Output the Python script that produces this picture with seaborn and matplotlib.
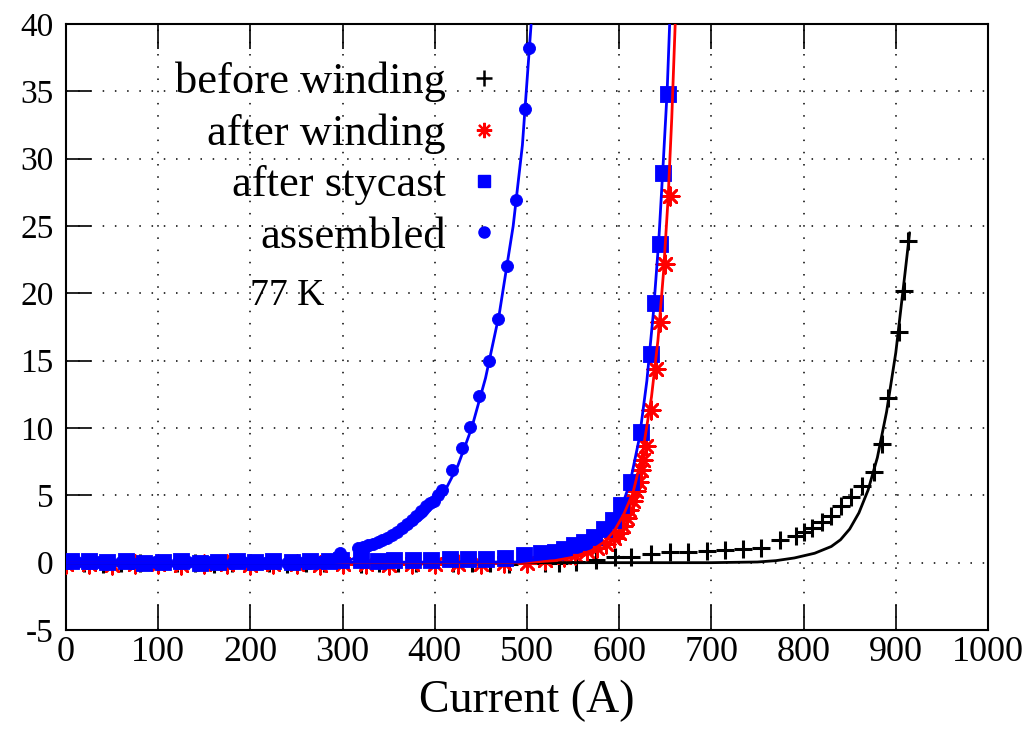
import matplotlib
matplotlib.use("Agg")
import matplotlib.pyplot as plt
from matplotlib.lines import Line2D
import pandas as pd
import seaborn as sns

# ---- measured points: current (A) vs voltage (uV/cm) ----
before_I = [0, 20, 40, 60, 80, 100, 120, 140, 160, 180, 200, 220, 240, 260, 280,
            300, 320, 340, 360, 380, 400, 420, 440, 460, 480, 500, 520, 535,
            553, 575, 595, 613, 635, 655, 675, 695, 715, 734, 754, 774, 792,
            800, 809, 820, 830, 841, 851, 863, 876, 885, 892, 904, 909, 913]
before_V = [0.0, 0.0, -0.1, 0.0, 0.0, -0.1, 0.0, 0.0, -0.1, 0.0, 0.0, 0.0, -0.1, 0.0, 0.0,
            0.0, -0.1, 0.0, 0.0, 0.0, -0.1, 0.0, 0.0, 0.0, -0.1, 0.0, 0.0, 0.0,
            0.07, 0.2, 0.4, 0.4, 0.64, 0.77, 0.77, 0.89, 0.94, 0.99, 1.06, 1.68, 2.0,
            2.25, 2.55, 3.05, 3.5, 4.2, 4.9, 5.7, 6.7, 8.8, 12.2, 17.1, 20.2, 23.9]

wound_I = [0, 25, 50, 75, 100, 125, 150, 175, 200, 225, 250, 275, 300, 325, 350,
           375, 400, 425, 450, 475, 500, 520, 540, 552, 565, 576, 586, 594, 600,
           604, 608, 611, 615, 618, 621, 624, 626, 629, 635, 640, 644, 650, 655]
wound_V = [-0.1, -0.1, -0.15, -0.1, -0.1, -0.15, -0.1, -0.1, -0.15, -0.1, -0.1, -0.15,
           -0.1, -0.1, -0.15, -0.1, -0.1, -0.1, -0.1, -0.05, 0.0, 0.2, 0.45, 0.6, 0.85,
           1.1, 1.4, 1.8, 2.2, 2.7, 3.3, 3.9, 4.6, 5.3, 6.0, 6.9, 7.6, 8.7, 11.3, 14.4,
           17.9, 22.2, 27.2]

stycast_I = [5, 25, 45, 65, 85, 105, 125, 145, 165, 185, 205, 225, 245, 265, 285,
             298, 320, 338, 356, 376, 396, 416, 436, 456, 476, 497, 515, 530, 540,
             551, 562, 573, 584, 593, 602, 613, 624, 634, 639, 644, 647, 653]
stycast_V = [0.1, 0.1, 0.05, 0.1, 0.0, 0.05, 0.1, 0.0, 0.05, 0.1, 0.05, 0.1, 0.05, 0.1,
             0.1, 0.2, 0.2, 0.15, 0.2, 0.2, 0.2, 0.25, 0.3, 0.3, 0.35, 0.55, 0.7, 0.8,
             1.05, 1.3, 1.55, 1.9, 2.5, 3.2, 4.3, 6.0, 9.7, 15.5, 19.3, 23.7, 28.9, 34.8]

assembled_I = [0, 12, 24, 36, 48, 60, 72, 84, 96, 108, 120, 132, 144, 156, 168, 180,
               192, 204, 216, 228, 240, 252, 264, 276, 288, 297, 317, 322, 328, 333,
               338, 343, 348, 354, 359, 364, 370, 375, 380, 385, 390, 395, 399, 404,
               408, 419, 429, 438, 448, 459, 469, 478, 488, 498, 502]
assembled_V = [0.0, 0.05, 0.0, 0.05, 0.0, 0.05, 0.0, 0.0, 0.05, 0.0, 0.0, 0.05, 0.0,
               0.05, 0.0, 0.0, 0.05, 0.0, 0.0, 0.05, 0.0, 0.05, 0.0, 0.05, 0.1, 0.7,
               1.1, 1.2, 1.3, 1.4, 1.5, 1.65, 1.8, 2.05, 2.3, 2.6, 2.9, 3.2, 3.5, 3.8,
               4.2, 4.4, 4.6, 5.0, 5.4, 6.9, 8.5, 10.1, 12.4, 15.0, 18.1, 22.0, 26.9,
               33.7, 38.2]

# ---- fitted transition curves ----
before_fit_I = [0, 700, 750, 770, 790, 812, 830, 840, 850, 860, 870, 880, 890, 900, 910, 915]
before_fit_V = [0.0, 0.0, 0.05, 0.15, 0.35, 0.7, 1.2, 1.7, 2.5, 3.7, 5.4, 7.8, 11.2, 15.6, 21.5, 24.5]

wound_fit_I = [0, 500, 530, 550, 570, 585, 595, 605, 615, 625, 635, 642, 648, 653, 657, 661]
wound_fit_V = [0.0, 0.02, 0.15, 0.4, 0.9, 1.6, 2.4, 3.6, 5.2, 8.0, 12.3, 16.5, 21.5, 27.0, 33.0, 40.5]

stycast_fit_I = [0, 490, 520, 545, 565, 580, 592, 602, 612, 622, 630, 637, 643, 648, 652, 655]
stycast_fit_V = [0.0, 0.05, 0.3, 0.7, 1.3, 2.0, 2.8, 4.0, 6.0, 9.3, 13.5, 18.5, 24.0, 30.0, 35.0, 40.5]

assembled_fit_I = [0, 290, 305, 315, 330, 350, 370, 390, 410, 425, 440, 455, 470, 485, 495, 505]
assembled_fit_V = [0.0, 0.0, 0.1, 0.4, 0.9, 1.6, 2.4, 3.5, 5.2, 7.2, 10.0, 13.7, 18.5, 25.0, 31.0, 40.5]

labels = ["before winding", "after winding", "after stycast", "assembled"]
x_ticks = list(range(0, 1001, 100))
y_ticks = list(range(-5, 41, 5))

sns.set_theme(style="white")
plt.rcParams["font.family"] = ["Liberation Serif", "DejaVu Serif"]
plt.rcParams["axes.linewidth"] = 1.5
plt.rcParams["axes.edgecolor"] = "black"
plt.rcParams["text.color"] = "black"
plt.rcParams["xtick.color"] = "black"
plt.rcParams["ytick.color"] = "black"
plt.rcParams["axes.labelcolor"] = "black"

fig = plt.figure(figsize=(10.27, 7.30), dpi=100)
ax = fig.add_axes([66 / 1027, 1 - 630 / 730, (988 - 66) / 1027, (630 - 24) / 730])

# measured points
pts = [
    (before_I, before_V, "+", "black", 160, 2.2),
    (wound_I, wound_V, (8, 2, 0), "red", 160, 1.9),
    (stycast_I, stycast_V, "s", "blue", 120, 0.6),
    (assembled_I, assembled_V, "o", "blue", 75, 0.6),
]
for (xi, yi, mk, col, s, lw) in pts:
    df = pd.DataFrame({"I": xi, "V": yi})
    sns.scatterplot(data=df, x="I", y="V", marker=mk, color=col, s=s,
                    linewidth=lw, edgecolor=col, ax=ax, zorder=3, legend=False)

# fitted curves
fits = [
    (before_fit_I, before_fit_V, "black"),
    (wound_fit_I, wound_fit_V, "red"),
    (stycast_fit_I, stycast_fit_V, "blue"),
    (assembled_fit_I, assembled_fit_V, "blue"),
]
for (xi, yi, col) in fits:
    df = pd.DataFrame({"I": xi, "V": yi})
    sns.lineplot(data=df, x="I", y="V", color=col, linewidth=2.0, sort=False,
                 estimator=None, ax=ax, zorder=4, legend=False)

ax.set_xlim(0, 1000)
ax.set_ylim(-5, 40)
ax.set_xticks(x_ticks)
ax.set_yticks(y_ticks)
ax.set_xticklabels([str(t) for t in x_ticks], fontsize=26)
ax.set_yticklabels([str(t) for t in y_ticks], fontsize=24)
ax.tick_params(axis="both", direction="in", length=18, width=1.2, color="black")
ax.tick_params(axis="x", top=True, bottom=True, pad=4)
ax.tick_params(axis="y", left=True, right=False, pad=9)
ax.grid(True, color="black", linestyle=(0, (1, 7)), linewidth=1.1)
ax.set_xlabel("Current (A)", fontsize=33, labelpad=8)
ax.set_ylabel("")

ax.text(200, 19.8, "77 K", fontsize=27, ha="left", va="center", zorder=5)

handles = [
    Line2D([], [], linestyle="none", marker="+", color="black", markersize=11, markeredgewidth=1.8),
    Line2D([], [], linestyle="none", marker=(8, 2, 0), color="red", markersize=11, markeredgewidth=1.6),
    Line2D([], [], linestyle="none", marker="s", color="blue", markersize=9),
    Line2D([], [], linestyle="none", marker="o", color="blue", markersize=8),
]
leg = ax.legend(handles, labels, loc="upper right", markerfirst=False, frameon=False,
                fontsize=32, handlelength=1.0, handletextpad=0.35, labelspacing=0.25,
                borderpad=0, borderaxespad=0,
                bbox_to_anchor=(506 / 1027, 1 - 62 / 730), bbox_transform=fig.transFigure)

fig.savefig("out.png", dpi=100)
